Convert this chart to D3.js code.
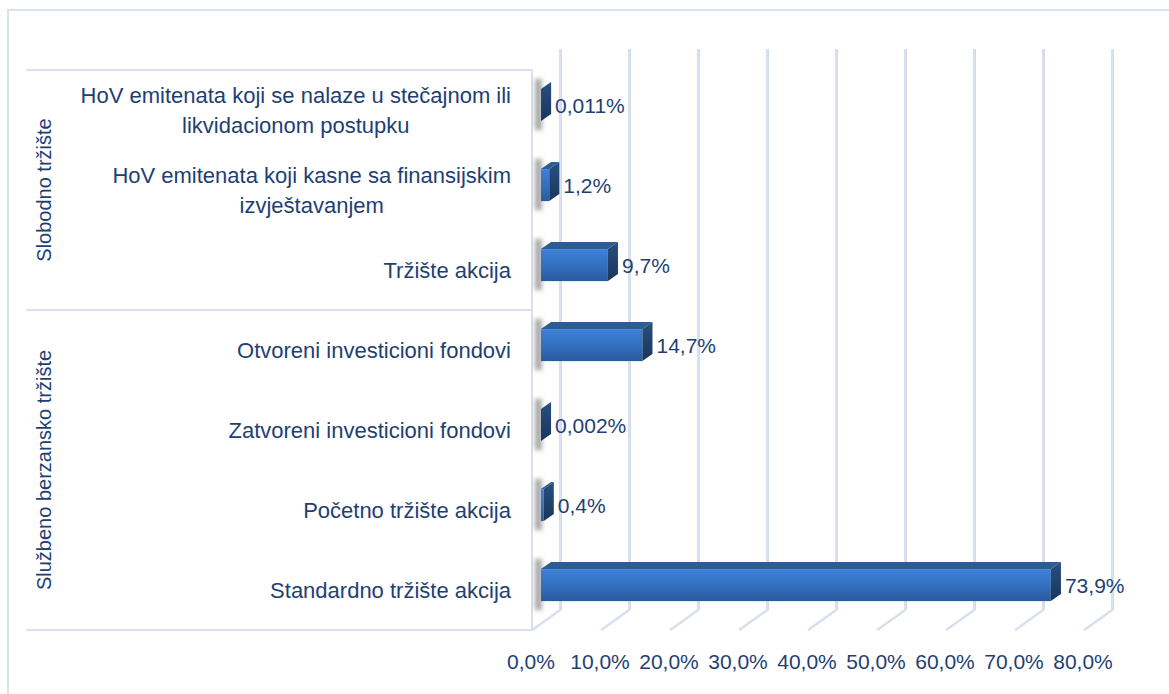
<!DOCTYPE html>
<html>
<head>
<meta charset="utf-8">
<script src="https://cdn.jsdelivr.net/npm/d3@7"></script>
<style>
  html, body { margin: 0; padding: 0; background: #fff; }
  svg { display: block; font-family: "Liberation Sans", Arial, sans-serif; }
</style>
</head>
<body>
<div id="chart"></div>
<script>
// ── Data ────────────────────────────────────────────────────────────────
const categories = [
  ['HoV emitenata koji se nalaze u stečajnom ili', 'likvidacionom postupku'],
  ['HoV emitenata koji kasne sa finansijskim', 'izvještavanjem'],
  ['Tržište akcija'],
  ['Otvoreni investicioni fondovi'],
  ['Zatvoreni investicioni fondovi'],
  ['Početno tržište akcija'],
  ['Standardno tržište akcija'],
];
const values      = [0.011, 1.2, 9.7, 14.7, 0.002, 0.4, 73.9];
const valueLabels = ['0,011%', '1,2%', '9,7%', '14,7%', '0,002%', '0,4%', '73,9%'];
const groupNames  = ['Slobodno tržište', 'Službeno berzansko tržište'];
const groupSizes  = [3, 4];
const ticks       = [0, 10, 20, 30, 40, 50, 60, 70, 80];
const tickLabels  = ['0,0%', '10,0%', '20,0%', '30,0%', '40,0%', '50,0%', '60,0%', '70,0%', '80,0%'];

// ── Layout ──────────────────────────────────────────────────────────────
const W = 1169, H = 694;
const TEXT = '#1f3f73';
const GRID = '#d8e1f0';
const DEPTH = { dx: 28, dy: -20 };      // front plane → back wall
const BAR_F0 = 0.32, BAR_F1 = 0.68;     // bar depth range
const BAR_DROP = 1.5;                   // bars sit a touch lower than pure projection

const x = d3.scaleLinear().domain([0, 80]).range([532, 1084]);
const y = d3.scaleBand().domain(d3.range(categories.length)).range([70, 630]);

const svg = d3.select('#chart').append('svg')
  .attr('width', W).attr('height', H);

const defs = svg.append('defs');
const gFront = defs.append('linearGradient').attr('id', 'gFront').attr('x1', 0).attr('x2', 0).attr('y1', 0).attr('y2', 1);
gFront.append('stop').attr('offset', '0%').attr('stop-color', '#3e80d8');
gFront.append('stop').attr('offset', '45%').attr('stop-color', '#3571c3');
gFront.append('stop').attr('offset', '100%').attr('stop-color', '#2a5b9b');
const gSide = defs.append('linearGradient').attr('id', 'gSide').attr('x1', 0).attr('x2', 0).attr('y1', 0).attr('y2', 1);
gSide.append('stop').attr('offset', '0%').attr('stop-color', '#28507f');
gSide.append('stop').attr('offset', '100%').attr('stop-color', '#1a355c');
defs.append('filter').attr('id', 'blur').attr('x', '-100%').attr('width', '300%')
  .append('feGaussianBlur').attr('stdDeviation', 2.2);

// outer chart border
svg.append('rect')
  .attr('x', 8).attr('y', 10).attr('width', W + 20).attr('height', H + 20)
  .attr('fill', 'none').attr('stroke', '#d9e2f3').attr('stroke-width', 2);

// ── Gridlines (back wall + floor) ───────────────────────────────────────
const grid = svg.append('g');
ticks.forEach(t => {
  const fx = x(t), bx = fx + DEPTH.dx;
  const pts = [[bx, 49], [bx, 630 + DEPTH.dy], [fx, 630]];
  grid.append('path').attr('d', d3.line()(pts.map(p => [p[0] + 1.2, p[1]])))
    .attr('fill', 'none').attr('stroke', '#c3cbd8').attr('stroke-width', 1);
  grid.append('path').attr('d', d3.line()(pts))
    .attr('fill', 'none').attr('stroke', GRID).attr('stroke-width', 2.2);
});

// ── Category axis lines ─────────────────────────────────────────────────
const axisG = svg.append('g').attr('stroke', GRID).attr('stroke-width', 2);
let acc = 0;
const bounds = [0];
groupSizes.forEach(s => { acc += s; bounds.push(acc); });
bounds.forEach(b => {
  const yy = b === categories.length ? y.range()[1] : y(b);
  axisG.append('line').attr('x1', 26).attr('x2', x(0)).attr('y1', yy).attr('y2', yy);
});
axisG.append('line').attr('x1', x(0)).attr('x2', x(0)).attr('y1', 70).attr('y2', 630);

// ── Bars ────────────────────────────────────────────────────────────────
const bars = svg.append('g');
values.forEach((v, i) => {
  const bh = y.bandwidth() * 0.4;
  const x0 = x(0) + DEPTH.dx * BAR_F0;
  const x1 = x(v) + DEPTH.dx * BAR_F0;
  const cy = y(i) + y.bandwidth() / 2 + DEPTH.dy * BAR_F0 + BAR_DROP;
  const top = cy - bh / 2, bot = cy + bh / 2;
  const ddx = DEPTH.dx * (BAR_F1 - BAR_F0), ddy = DEPTH.dy * (BAR_F1 - BAR_F0);

  // soft shadow at the bar's base
  bars.append('rect')
    .attr('x', x0 - 6).attr('y', top + ddy - 3).attr('width', 7).attr('height', bh - ddy + 12)
    .attr('fill', '#707070').attr('opacity', 0.6).attr('filter', 'url(#blur)');

  // top face
  bars.append('path')
    .attr('d', d3.line()([[x0, top], [x0 + ddx, top + ddy], [x1 + ddx, top + ddy], [x1, top]]) + 'Z')
    .attr('fill', '#2d5c97');
  // front face
  bars.append('rect')
    .attr('x', x0).attr('y', top).attr('width', Math.max(0, x1 - x0)).attr('height', bh)
    .attr('fill', 'url(#gFront)');
  // side face
  bars.append('path')
    .attr('d', d3.line()([[x1, top], [x1 + ddx, top + ddy], [x1 + ddx, bot + ddy], [x1, bot]]) + 'Z')
    .attr('fill', 'url(#gSide)');

  // value label
  svg.append('text')
    .attr('x', x1 + ddx + 4).attr('y', cy)
    .attr('dominant-baseline', 'central')
    .attr('font-size', 21).attr('fill', TEXT)
    .text(valueLabels[i]);
});

// ── Category labels ─────────────────────────────────────────────────────
const LABEL_RIGHT = 511, LINE_H = 30;
categories.forEach((lines, i) => {
  const cy = y(i) + y.bandwidth() / 2;
  const g = svg.append('g');
  const texts = lines.map((ln, j) => g.append('text')
    .attr('y', cy + (j - (lines.length - 1) / 2) * LINE_H)
    .attr('dominant-baseline', 'central')
    .attr('text-anchor', 'middle')
    .attr('font-size', 22).attr('fill', TEXT)
    .text(ln));
  const maxW = d3.max(texts, t => t.node().getComputedTextLength());
  texts.forEach(t => t.attr('x', LABEL_RIGHT - maxW / 2));
});

// ── Group labels (rotated) ──────────────────────────────────────────────
acc = 0;
groupNames.forEach((name, gi) => {
  const y0 = y(acc);
  acc += groupSizes[gi];
  const y1 = acc === categories.length ? y.range()[1] : y(acc);
  const cy = (y0 + y1) / 2;
  svg.append('text')
    .attr('transform', `translate(44,${cy}) rotate(-90)`)
    .attr('text-anchor', 'middle').attr('dominant-baseline', 'central')
    .attr('font-size', 20).attr('fill', TEXT)
    .text(name);
});

// ── Value axis tick labels ──────────────────────────────────────────────
svg.append('g').selectAll('text').data(ticks).join('text')
  .attr('x', d => x(d) - 1).attr('y', 661)
  .attr('text-anchor', 'middle').attr('dominant-baseline', 'central')
  .attr('font-size', 21).attr('fill', TEXT)
  .text((d, i) => tickLabels[i]);
</script>
</body>
</html>
